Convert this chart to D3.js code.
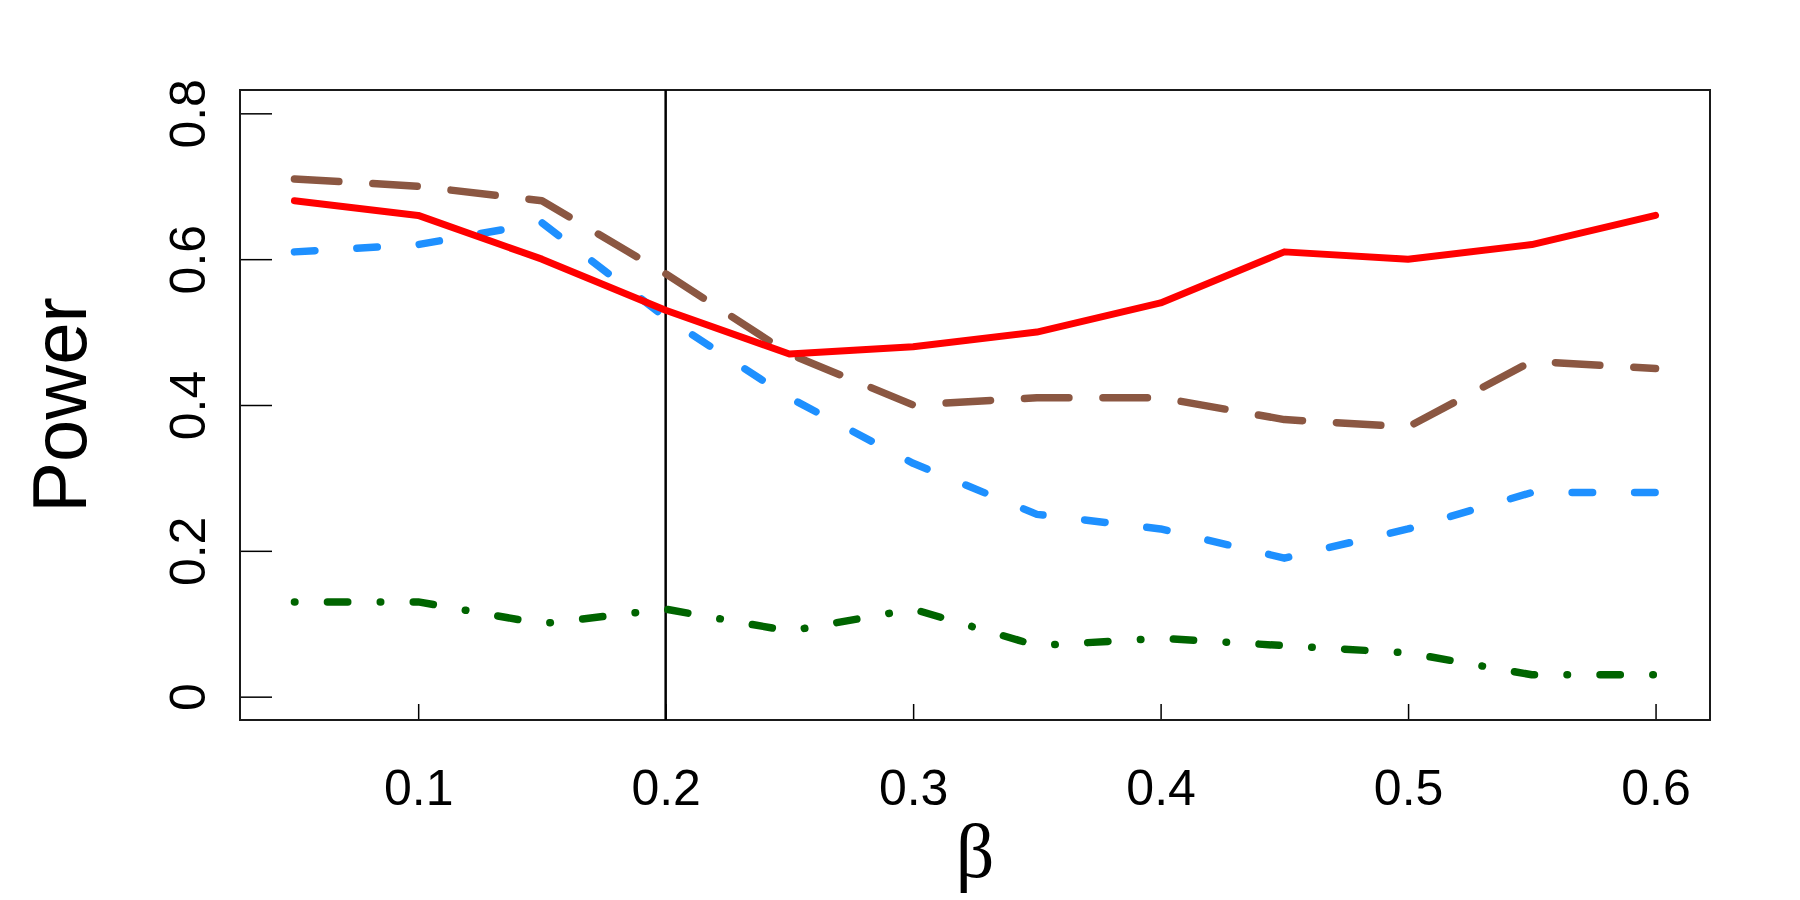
<!DOCTYPE html>
<html>
<head>
<meta charset="utf-8">
<script src="https://cdn.jsdelivr.net/npm/d3@7"></script>
<style>
  body { margin: 0; background: #fff; }
  svg text { font-family: "Liberation Sans", Arial, sans-serif; }
</style>
</head>
<body>
<div id="plot"></div>
<script>
// beta values on the x axis
var betas = [0.05, 0.1, 0.15, 0.2, 0.25, 0.3, 0.35, 0.4, 0.45, 0.5, 0.55, 0.6];

var power_red   = [0.68, 0.66, 0.60, 0.53, 0.47, 0.48, 0.50, 0.54, 0.61, 0.60, 0.62, 0.66];
var power_brown = [0.71, 0.70, 0.68, 0.58, 0.47, 0.40, 0.41, 0.41, 0.38, 0.37, 0.46, 0.45];
var power_blue  = [0.61, 0.62, 0.65, 0.52, 0.41, 0.32, 0.25, 0.23, 0.19, 0.23, 0.28, 0.28];
var power_green = [0.13, 0.13, 0.10, 0.12, 0.09, 0.12, 0.07, 0.08, 0.07, 0.06, 0.03, 0.03];

var x_ticks = [0.1, 0.2, 0.3, 0.4, 0.5, 0.6];
var y_ticks = [0, 0.2, 0.4, 0.6, 0.8];
var ref_beta = 0.2;

var width = 1800, height = 900;
// plot box edges (window.top is reserved, so prefixed names)
var box_l = 240, box_r = 1710, box_t = 90, box_b = 720;

var svg = d3.select("#plot").append("svg")
	.attr("width", width)
	.attr("height", height);

// R style 4% padding on both axes
var xpad = (0.6 - 0.05) * 0.04;
var ypad = 0.8 * 0.04;
var x = d3.scaleLinear().domain([0.05 - xpad, 0.6 + xpad]).range([box_l, box_r]);
var y = d3.scaleLinear().domain([0 - ypad, 0.8 + ypad]).range([box_b, box_t]);

// x axis, ticks inside the box
var xg = svg.append("g")
	.attr("transform", "translate(0," + box_b + ")")
	.call(d3.axisBottom(x).tickValues(x_ticks).tickSize(-16).tickFormat(d3.format(".1f")));
xg.select(".domain").remove();
xg.selectAll("line").attr("stroke", "#000").attr("stroke-width", 1.5);
xg.selectAll("text")
	.attr("y", 85).attr("dy", 0)
	.attr("fill", "#000")
	.style("font-size", "50px");

// y axis, labels turned like R does
var yg = svg.append("g")
	.attr("transform", "translate(" + box_l + ",0)")
	.call(d3.axisLeft(y).tickValues(y_ticks).tickSize(-32)
		.tickFormat(function(d){ return d === 0 ? "0" : d3.format(".1f")(d); }));
yg.select(".domain").remove();
yg.selectAll("line").attr("stroke", "#000").attr("stroke-width", 1.5);
yg.selectAll("text")
	.attr("x", 0).attr("y", 0).attr("dy", 0)
	.attr("text-anchor", "middle")
	.attr("transform", "translate(-35,0) rotate(-90)")
	.attr("fill", "#000")
	.style("font-size", "50px");

// box
svg.append("rect")
	.attr("x", box_l).attr("y", box_t)
	.attr("width", box_r - box_l).attr("height", box_b - box_t)
	.attr("fill", "none")
	.attr("stroke", "#1a1a1a")
	.attr("stroke-width", 2);

// reference line
svg.append("line")
	.attr("x1", x(ref_beta)).attr("x2", x(ref_beta))
	.attr("y1", box_t).attr("y2", box_b)
	.attr("stroke", "#000")
	.attr("stroke-width", 2.5);

var line = d3.line()
	.x(function(d){ return x(d[0]); })
	.y(function(d){ return y(d[1]); });

function draw_series(vals, colour, lw, dash)
{
	svg.append("path")
		.datum(d3.zip(betas, vals))
		.attr("d", line)
		.attr("fill", "none")
		.attr("stroke", colour)
		.attr("stroke-width", lw)
		.attr("stroke-linecap", "round")
		.attr("stroke-linejoin", "round")
		.attr("stroke-dasharray", dash);
}

draw_series(power_green, "#006400", 7.5, "0.5,32.5,20.3,32.5");
draw_series(power_blue,  "#1E90FF", 7.5, "20.5,42");
draw_series(power_brown, "#8B5742", 7.5, "44.5,34");
draw_series(power_red,   "#FF0000", 7, null);

// axis titles
svg.append("text")
	.attr("x", (box_l + box_r) / 2)
	.attr("y", 877)
	.attr("text-anchor", "middle")
	.style("font-family", "'Liberation Serif', 'Times New Roman', serif")
	.style("font-size", "76px")
	.text("β");

svg.append("text")
	.attr("transform", "translate(86," + ((box_t + box_b) / 2) + ") rotate(-90)")
	.attr("text-anchor", "middle")
	.style("font-size", "76px")
	.text("Power");
</script>
</body>
</html>
